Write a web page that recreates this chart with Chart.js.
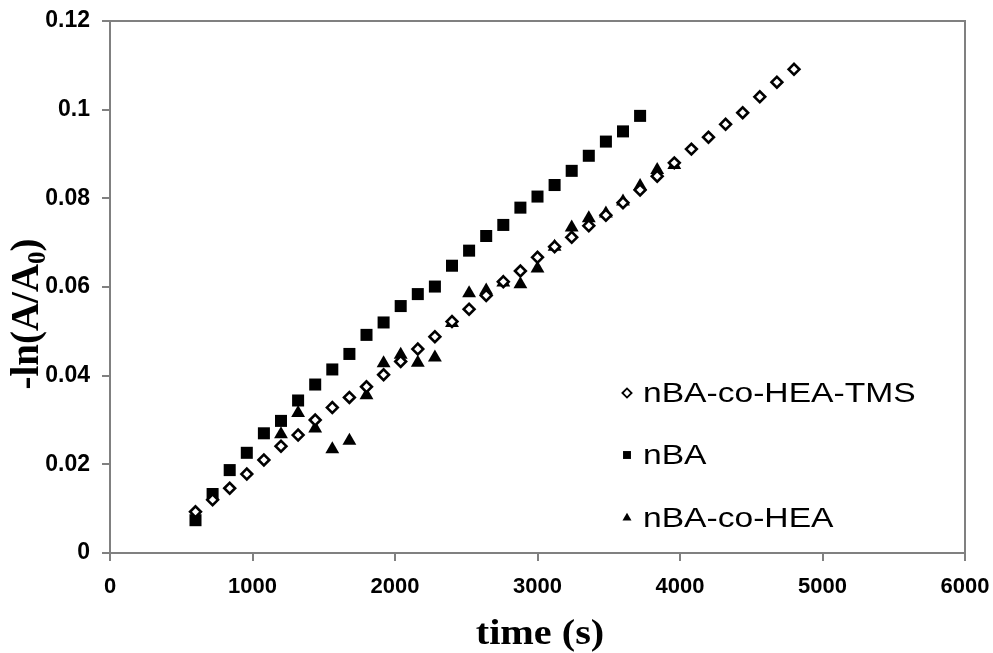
<!DOCTYPE html>
<html>
<head>
<meta charset="utf-8">
<script src="https://cdn.jsdelivr.net/npm/chart.js@4/dist/chart.umd.min.js"></script>
<style>
  html, body { margin: 0; padding: 0; background: #ffffff; }
  #wrap { width: 993px; height: 653px; position: relative; }
</style>
</head>
<body>
<div id="wrap"><canvas id="c" width="993" height="653"></canvas></div>
<script>
// ---- data ----
const seriesNames = ['nBA-co-HEA-TMS', 'nBA', 'nBA-co-HEA'];

const timeTMS = [600, 720, 840, 960, 1080, 1200, 1320, 1440, 1560, 1680, 1800, 1920,
  2040, 2160, 2280, 2400, 2520, 2640, 2760, 2880, 3000, 3120, 3240, 3360,
  3480, 3600, 3720, 3840, 3960, 4080, 4200, 4320, 4440, 4560, 4680, 4800];
const valTMS = [0.0093, 0.0120, 0.0146, 0.0178, 0.0210, 0.0241, 0.0266, 0.0300, 0.0328, 0.0351, 0.0375, 0.0402,
  0.0432, 0.0460, 0.0488, 0.0522, 0.0550, 0.0581, 0.0612, 0.0636, 0.0667, 0.0691, 0.0712, 0.0738,
  0.0762, 0.0790, 0.0819, 0.0850, 0.0880, 0.0911, 0.0938, 0.0967, 0.0993, 0.1029, 0.1062, 0.1091];

const timeNBA = [600, 720, 840, 960, 1080, 1200, 1320, 1440, 1560, 1680, 1800, 1920,
  2040, 2160, 2280, 2400, 2520, 2640, 2760, 2880, 3000, 3120, 3240, 3360, 3480, 3600, 3720];
const valNBA = [0.0074, 0.0133, 0.0187, 0.0226, 0.0270, 0.0298, 0.0344, 0.0380, 0.0414, 0.0449, 0.0492, 0.0520,
  0.0557, 0.0584, 0.0601, 0.0648, 0.0682, 0.0715, 0.0740, 0.0779, 0.0804, 0.0830, 0.0862, 0.0896, 0.0928, 0.0951, 0.0986];

const timeHEA = [1200, 1320, 1440, 1560, 1680, 1800, 1920, 2040, 2160, 2280, 2400, 2520,
  2640, 2760, 2880, 3000, 3120, 3240, 3360, 3480, 3600, 3720, 3840, 3960];
const valHEA = [0.0268, 0.0316, 0.0281, 0.0234, 0.0253, 0.0356, 0.0428, 0.0447, 0.0429, 0.0441, 0.0519, 0.0586,
  0.0592, 0.0610, 0.0606, 0.0642, 0.0691, 0.0734, 0.0755, 0.0766, 0.0793, 0.0828, 0.0864, 0.0875];

const xTicks = [0, 1000, 2000, 3000, 4000, 5000, 6000];
const yTicks = [0, 0.02, 0.04, 0.06, 0.08, 0.1, 0.12];
const xTitle = 'time (s)';
const yTitleMain = '-ln(A/A';
const yTitleSub = '0';
const yTitleEnd = ')';

function pts(xs, ys) { return xs.map((x, i) => ({ x: x, y: ys[i] })); }

const AXIS_GREY = '#808080';
const SANS = '"Liberation Sans", Arial, sans-serif';
const SERIF = '"Liberation Serif", "Times New Roman", serif';

const styles = [
  { pointStyle: 'rectRot', radius: 5.4, bg: '#ffffff', border: '#000000', bw: 2.6, lr: 4.6, lbw: 1.8 },
  { pointStyle: 'rect', radius: 8.5, bg: '#000000', border: '#000000', bw: 0, lr: 5.6, lbw: 0 },
  { pointStyle: 'triangle', radius: 8, bg: '#000000', border: '#000000', bw: 0, lr: 5.2, lbw: 0 }
];

const decorPlugin = {
  id: 'decor',
  afterDraw(chart) {
    const ctx = chart.ctx;
    const a = chart.chartArea;
    ctx.save();
    // top & right frame lines
    ctx.strokeStyle = AXIS_GREY;
    ctx.lineWidth = 2;
    ctx.beginPath();
    ctx.moveTo(a.left, a.top);
    ctx.lineTo(a.right, a.top);
    ctx.lineTo(a.right, a.bottom);
    ctx.stroke();

    // x title
    ctx.fillStyle = '#000';
    ctx.font = 'bold 35px ' + SERIF;
    ctx.textAlign = 'center';
    ctx.textBaseline = 'alphabetic';
    ctx.save();
    ctx.translate(540, 644);
    ctx.scale(1.15, 1);
    ctx.fillText(xTitle, 0, 0);
    ctx.restore();

    // y title with subscript
    ctx.save();
    ctx.translate(38, 314);
    ctx.rotate(-Math.PI / 2);
    const fMain = 'bold 39px ' + SERIF;
    const fSub = 'bold 25px ' + SERIF;
    ctx.font = fMain;
    const w1 = ctx.measureText(yTitleMain).width;
    const w3 = ctx.measureText(yTitleEnd).width;
    ctx.font = fSub;
    const w2 = ctx.measureText(yTitleSub).width;
    const total = w1 + w2 + w3;
    let x0 = -total / 2;
    ctx.textAlign = 'left';
    ctx.font = fMain;
    ctx.fillText(yTitleMain, x0, 0);
    ctx.font = fSub;
    ctx.fillText(yTitleSub, x0 + w1, 7);
    ctx.font = fMain;
    ctx.fillText(yTitleEnd, x0 + w1 + w2, 0);
    ctx.restore();

    // legend
    const rows = [393, 455, 518];
    seriesNames.forEach((name, i) => {
      const s = styles[i];
      ctx.fillStyle = s.bg;
      ctx.strokeStyle = s.border;
      ctx.lineWidth = s.lbw;
      Chart.helpers.drawPoint(ctx, { pointStyle: s.pointStyle, radius: s.lr, rotation: 0, borderWidth: s.lbw }, 627, rows[i]);
      ctx.fillStyle = '#000';
      ctx.font = '28px ' + SANS;
      ctx.textAlign = 'left';
      ctx.textBaseline = 'middle';
      ctx.save();
      ctx.translate(643, rows[i] + 1);
      ctx.scale(1.2, 1);
      ctx.fillText(name, 0, 0);
      ctx.restore();
    });
    ctx.restore();
  }
};

const datasets = [
  { label: seriesNames[0], data: pts(timeTMS, valTMS) },
  { label: seriesNames[1], data: pts(timeNBA, valNBA) },
  { label: seriesNames[2], data: pts(timeHEA, valHEA) }
].map((d, i) => Object.assign(d, {
  showLine: false,
  pointStyle: styles[i].pointStyle,
  pointRadius: styles[i].radius,
  pointHoverRadius: styles[i].radius,
  pointBackgroundColor: styles[i].bg,
  pointBorderColor: styles[i].border,
  pointBorderWidth: styles[i].bw,
  backgroundColor: styles[i].bg,
  borderColor: styles[i].border
}));

new Chart(document.getElementById('c'), {
  type: 'scatter',
  data: { datasets: datasets },
  options: {
    responsive: false,
    animation: false,
    devicePixelRatio: 1,
    layout: { padding: { left: 0, right: 28, top: 21, bottom: 0 } },
    plugins: { legend: { display: false }, tooltip: { enabled: false } },
    scales: {
      x: {
        type: 'linear', min: 0, max: 6000,
        afterBuildTicks: (s) => { s.ticks = xTicks.map(v => ({ value: v })); },
        afterFit: (s) => { s.height = 100; s.paddingLeft = 0; s.paddingRight = 0; },
        grid: { display: true, drawOnChartArea: false, drawTicks: true, tickLength: 8, color: AXIS_GREY, lineWidth: 2 },
        border: { display: true, color: AXIS_GREY, width: 2 },
        ticks: { color: '#000', font: { family: SANS, size: 22, weight: 'bold' }, padding: 13, maxRotation: 0,
          callback: (v) => String(v) }
      },
      y: {
        type: 'linear', min: 0, max: 0.12,
        afterBuildTicks: (s) => { s.ticks = yTicks.map(v => ({ value: v })); },
        afterFit: (s) => { s.width = 110; s.paddingTop = 0; s.paddingBottom = 0; },
        grid: { display: true, drawOnChartArea: false, drawTicks: true, tickLength: 8, color: AXIS_GREY, lineWidth: 2 },
        border: { display: true, color: AXIS_GREY, width: 2 },
        ticks: { color: '#000', font: { family: SANS, size: 23, weight: 'bold' }, padding: 12,
          callback: (v) => String(Math.round(v * 100) / 100) }
      }
    }
  },
  plugins: [decorPlugin]
});
</script>
</body>
</html>
